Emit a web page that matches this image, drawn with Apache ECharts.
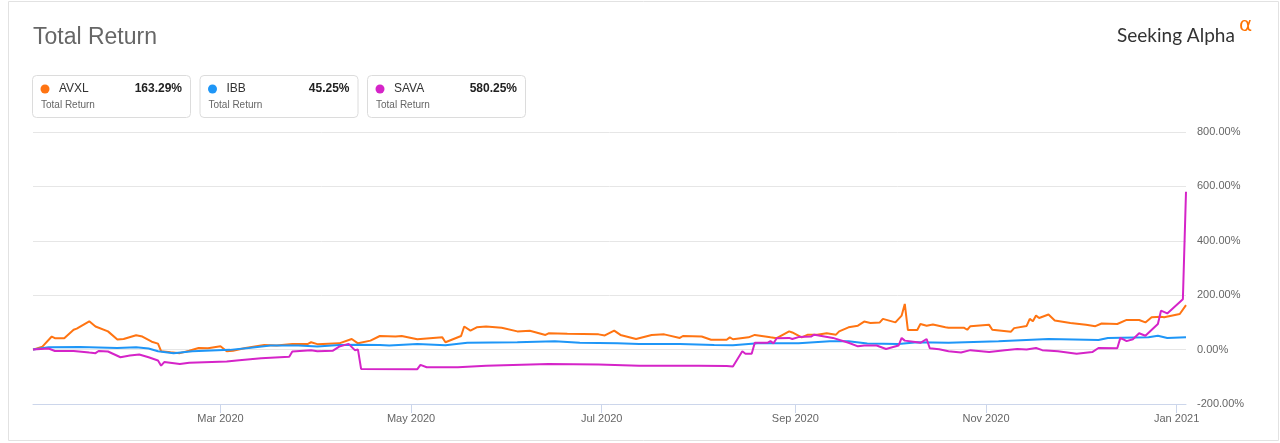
<!DOCTYPE html>
<html lang="en">
<head>
<meta charset="UTF-8">
<title>Total Return</title>
<script src="https://cdn.jsdelivr.net/npm/echarts@6/dist/echarts.min.js"></script>
<style>
html, body { margin: 0; padding: 0; background: #fff; }
#main { width: 1280px; height: 443px; }
</style>
</head>
<body>
<div id="main"></div>
<script>
// x axis ticks (every two months)
var tickDates = ['2020-03-01', '2020-05-01', '2020-07-01', '2020-09-01', '2020-11-01', '2021-01-01'];
var tickLabels = ['Mar 2020', 'May 2020', 'Jul 2020', 'Sep 2020', 'Nov 2020', 'Jan 2021'];

// legend
var names = ['AVXL', 'IBB', 'SAVA'];
var totals = ['163.29%', '45.25%', '580.25%'];
var colors = ['#ff7412', '#1e96f7', '#d524c8'];

// AVXL total return (%)
var avxlDates = ['2020-01-01','2020-01-04','2020-01-07','2020-01-08','2020-01-11','2020-01-14','2020-01-15','2020-01-19','2020-01-21','2020-01-25',
  '2020-01-28','2020-01-30','2020-02-03','2020-02-05','2020-02-08','2020-02-10','2020-02-11','2020-02-14','2020-02-17','2020-02-20',
  '2020-02-23','2020-02-26','2020-03-01','2020-03-03','2020-03-05','2020-03-09','2020-03-15','2020-03-19','2020-03-24','2020-03-29',
  '2020-03-30','2020-04-01','2020-04-08','2020-04-12','2020-04-14','2020-04-18','2020-04-21','2020-04-26','2020-04-28','2020-05-03',
  '2020-05-11','2020-05-12','2020-05-17','2020-05-18','2020-05-20','2020-05-22','2020-05-25','2020-05-30','2020-06-04','2020-06-08',
  '2020-06-13','2020-06-14','2020-06-20','2020-06-30','2020-07-02','2020-07-05','2020-07-07','2020-07-12','2020-07-17','2020-07-21',
  '2020-07-26','2020-07-27','2020-08-02','2020-08-05','2020-08-10','2020-08-11','2020-08-12','2020-08-17','2020-08-19','2020-08-24',
  '2020-08-26','2020-08-30','2020-08-31','2020-09-03','2020-09-05','2020-09-08','2020-09-11','2020-09-14','2020-09-15','2020-09-18',
  '2020-09-21','2020-09-23','2020-09-25','2020-09-28','2020-09-29','2020-10-03','2020-10-05','2020-10-06','2020-10-07','2020-10-10',
  '2020-10-11','2020-10-13','2020-10-15','2020-10-19','2020-10-20','2020-10-25','2020-10-26','2020-10-27','2020-11-02','2020-11-03',
  '2020-11-09','2020-11-10','2020-11-14','2020-11-15','2020-11-16','2020-11-17','2020-11-18','2020-11-21','2020-11-23','2020-11-28',
  '2020-12-03','2020-12-06','2020-12-08','2020-12-13','2020-12-16','2020-12-20','2020-12-22','2020-12-24','2020-12-27','2020-12-28',
  '2021-01-02','2021-01-04'];
var avxlValues = [0,11,48,42,42,73,77,104,85,67,
  37,39,53,48,29,22,-6,-10,-13,-4,
  6,5,12,-6,-4,6,17,15,21,21,
  27,20,23,39,23,33,50,48,50,38,
  45,27,50,85,70,82,85,80,67,69,
  54,60,58,56,52,70,54,39,54,56,
  43,50,48,36,36,45,38,45,54,45,
  42,67,63,45,55,55,60,55,67,82,
  88,103,98,100,113,100,125,168,72,72,
  94,88,92,82,80,80,73,86,91,73,
  66,79,87,113,104,125,116,129,107,98,
  91,86,96,94,109,109,100,119,121,119,
  131,163.29];

// IBB total return (%)
var ibbDates = ['2020-01-01','2020-01-06','2020-01-16','2020-01-28','2020-02-03','2020-02-07','2020-02-10','2020-02-15','2020-02-21','2020-03-04',
  '2020-03-10','2020-03-17','2020-03-26','2020-04-01','2020-04-08','2020-04-14','2020-04-21','2020-04-24','2020-05-03','2020-05-12',
  '2020-05-19','2020-06-04','2020-06-16','2020-06-24','2020-07-06','2020-07-13','2020-07-26','2020-08-06','2020-08-12','2020-08-20',
  '2020-09-02','2020-09-12','2020-09-18','2020-09-24','2020-10-04','2020-10-10','2020-10-20','2020-11-05','2020-11-21','2020-12-07',
  '2020-12-10','2020-12-23','2020-12-26','2020-12-29','2021-01-04'];
var ibbValues = [0,9,10,6,9,4,-6,-13,-6,-1,
  6,15,15,11,17,18,17,15,21,16,
  25,27,31,25,23,21,21,17,16,23,
  23,31,31,22,21,27,25,31,39,35,
  43,45,51,43,45.25];

// SAVA total return (%)
var savaDates = ['2020-01-01','2020-01-06','2020-01-08','2020-01-14','2020-01-19','2020-01-21','2020-01-22','2020-01-25','2020-01-29','2020-02-01',
  '2020-02-04','2020-02-07','2020-02-10','2020-02-11','2020-02-12','2020-02-17','2020-02-20','2020-03-03','2020-03-07','2020-03-14',
  '2020-03-23','2020-03-24','2020-03-30','2020-04-01','2020-04-06','2020-04-08','2020-04-11','2020-04-13','2020-04-14','2020-04-15',
  '2020-05-03','2020-05-04','2020-05-06','2020-05-16','2020-05-25','2020-06-14','2020-06-30','2020-07-13','2020-08-01','2020-08-10',
  '2020-08-12','2020-08-15','2020-08-16','2020-08-18','2020-08-19','2020-08-23','2020-08-24','2020-08-25','2020-08-26','2020-08-30',
  '2020-08-31','2020-09-02','2020-09-06','2020-09-07','2020-09-08','2020-09-13','2020-09-18','2020-09-21','2020-09-23','2020-09-27',
  '2020-09-30','2020-10-04','2020-10-05','2020-10-06','2020-10-10','2020-10-11','2020-10-13','2020-10-14','2020-10-17','2020-10-20',
  '2020-10-24','2020-10-27','2020-11-02','2020-11-07','2020-11-11','2020-11-14','2020-11-17','2020-11-19','2020-11-24','2020-11-30',
  '2020-12-05','2020-12-07','2020-12-13','2020-12-14','2020-12-16','2020-12-18','2020-12-20','2020-12-22','2020-12-26','2020-12-27',
  '2020-12-29','2021-01-03','2021-01-04'];
var savaValues = [0,4,-5,-5,-11,-13,-5,-7,-28,-22,
  -18,-28,-40,-59,-46,-53,-48,-44,-39,-32,
  -26,-7,-2,-6,-4,11,21,-2,0,-71,
  -72,-56,-65,-65,-59,-53,-55,-59,-59,-60,
  -62,-6,-15,-15,25,25,31,23,42,43,
  39,46,48,55,53,43,25,12,15,15,
  2,15,43,33,27,25,39,5,1,-6,
  -11,-2,-9,-2,2,0,6,-2,-6,-15,
  -9,6,5,43,31,38,60,51,94,143,
  133,185,580.25];

function ts(s) {
  var p = s.split('-');
  return Date.UTC(+p[0], +p[1] - 1, +p[2]);
}
function pairs(d, v) {
  return d.map(function (x, i) { return [ts(x), v[i]]; });
}
var tickValues = tickDates.map(ts);

var font = '"Liberation Sans", Arial, sans-serif';
var chart = echarts.init(document.getElementById('main'));

var graphics = [
  { type: 'rect', shape: { x: 8.5, y: 1.5, width: 1270, height: 439 },
    style: { fill: 'none', stroke: '#e2e2e2', lineWidth: 1 }, silent: true },
  { type: 'text', x: 33, y: 38,
    style: { text: 'Total Return', font: '23px ' + font, fill: '#666', textVerticalAlign: 'middle' } },
  { type: 'text', x: 1117, y: 36,
    style: { text: 'Seeking Alpha', font: '19px Lato, sans-serif', fill: '#333', textVerticalAlign: 'middle' } },
  { type: 'text', x: 1239, y: 26,
    style: { text: 'α', font: '20px "DejaVu Sans", sans-serif', fill: '#ff7300', textVerticalAlign: 'middle' } }
];
names.forEach(function (n, i) {
  var bx = 32 + i * 167.5;
  graphics.push(
    { type: 'rect', shape: { x: bx + 0.5, y: 75.5, width: 158, height: 42, r: 4 },
      style: { fill: '#fff', stroke: '#dcdcdc', lineWidth: 1 } },
    { type: 'circle', shape: { cx: bx + 13, cy: 89, r: 4.5 }, style: { fill: colors[i] } },
    { type: 'text', x: bx + 27, y: 89,
      style: { text: n, font: '12px ' + font, fill: '#333', textVerticalAlign: 'middle' } },
    { type: 'text', x: bx + 150, y: 89,
      style: { text: totals[i], font: 'bold 12px ' + font, fill: '#222', textAlign: 'right', textVerticalAlign: 'middle' } },
    { type: 'text', x: bx + 9, y: 105,
      style: { text: 'Total Return', font: '10px ' + font, fill: '#666', textVerticalAlign: 'middle' } }
  );
});

var option = {
  animation: false,
  textStyle: { fontFamily: font },
  grid: { left: 33, right: 94, top: 132, bottom: 39 },
  graphic: graphics,
  xAxis: {
    type: 'value',
    min: ts('2020-01-01'),
    max: ts('2021-01-04'),
    axisLine: { onZero: false, lineStyle: { color: '#ccd6eb' } },
    axisTick: { show: true, length: 9, customValues: tickValues, lineStyle: { color: '#ccd6eb' } },
    axisLabel: {
      customValues: tickValues,
      color: '#666',
      fontSize: 11,
      margin: 9,
      formatter: function (v) {
        for (var i = 0; i < tickValues.length; i++) {
          if (Math.abs(tickValues[i] - v) < 3600000) return tickLabels[i];
        }
        return '';
      }
    },
    splitLine: { show: false }
  },
  yAxis: {
    type: 'value',
    position: 'right',
    min: -200,
    max: 800,
    interval: 200,
    axisLine: { show: false },
    axisTick: { show: false },
    axisLabel: {
      color: '#666',
      fontSize: 11,
      margin: 11,
      formatter: function (v) { return v.toFixed(2) + '%'; }
    },
    splitLine: { lineStyle: { color: '#e6e6e6' } }
  },
  series: [
    { name: 'AVXL', type: 'line', data: pairs(avxlDates, avxlValues), showSymbol: false,
      lineStyle: { width: 2, color: colors[0] }, itemStyle: { color: colors[0] } },
    { name: 'IBB', type: 'line', data: pairs(ibbDates, ibbValues), showSymbol: false,
      lineStyle: { width: 2, color: colors[1] }, itemStyle: { color: colors[1] } },
    { name: 'SAVA', type: 'line', data: pairs(savaDates, savaValues), showSymbol: false,
      lineStyle: { width: 2, color: colors[2] }, itemStyle: { color: colors[2] } }
  ]
};
chart.setOption(option);
</script>
</body>
</html>
